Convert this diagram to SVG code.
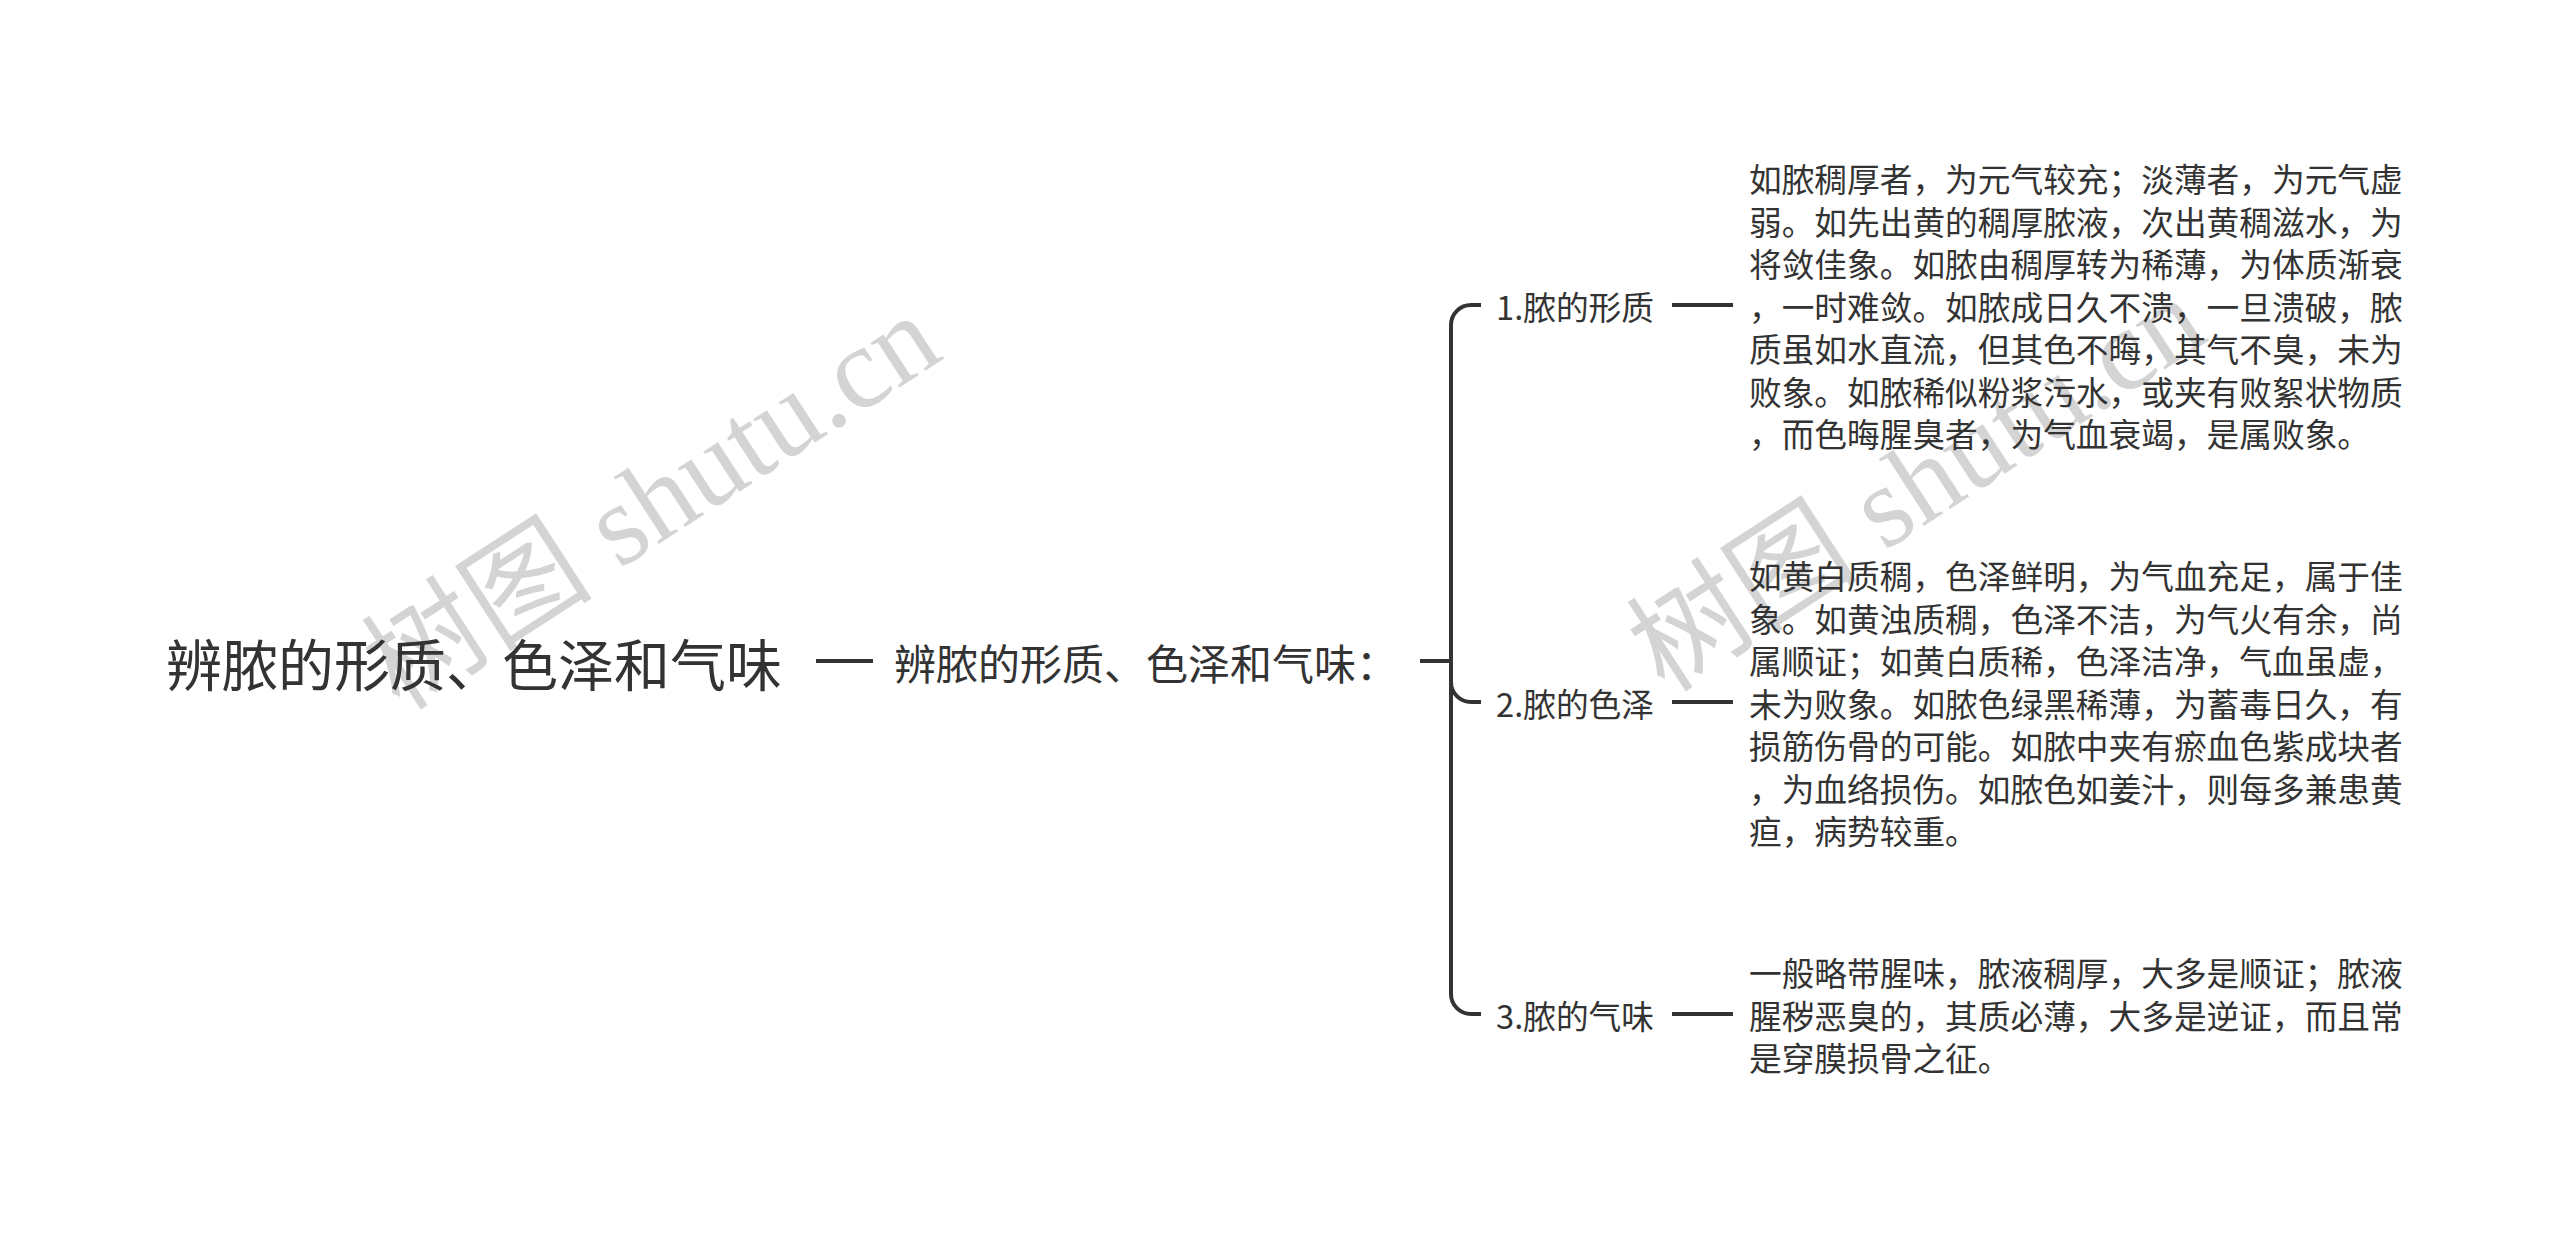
<svg xmlns="http://www.w3.org/2000/svg" width="2560" height="1234" viewBox="0 0 2560 1234">
<style>
.t{font-family:"Noto Sans CJK SC","Noto Sans",sans-serif;fill:#333;dominant-baseline:central}
.root{font-size:56px}
.sub{font-size:42px}
.lbl{font-size:32.7px}
.det{font-size:32.7px}
.wm{font-family:"Liberation Serif","Noto Sans CJK SC",serif;font-size:116px;fill:#d4d4d4}
.c{fill:none;stroke:#333;stroke-width:4}
</style>
<rect width="2560" height="1234" fill="#fff"/>
<g id="watermarks">
<text class="wm" transform="translate(400,712) rotate(-33)">树图 shutu.cn</text>
<text class="wm" transform="translate(1665,694) rotate(-33)">树图 shutu.cn</text>
</g>
<g id="connectors">
<line class="c" x1="816" y1="661" x2="873" y2="661"/>
<path class="c" d="M1420,661 H1451 V325 A20,20 0 0 1 1471,305 H1481"/>
<path class="c" d="M1451,661 V682 A20,20 0 0 0 1471,702 H1481"/>
<path class="c" d="M1451,661 V994 A20,20 0 0 0 1471,1014 H1481"/>
<line class="c" x1="1672" y1="305" x2="1733" y2="305"/>
<line class="c" x1="1672" y1="702" x2="1733" y2="702"/>
<line class="c" x1="1672" y1="1014" x2="1733" y2="1014"/>
</g>
<g id="root"><text class="t root" x="166" y="661">辨脓的形质、色泽和气味</text></g>
<g id="main"><text class="t sub" x="894" y="661">辨脓的形质、色泽和气味：</text></g>
<g id="n1"><text class="t lbl" x="1496" y="305">1.脓的形质</text></g>
<g id="n2"><text class="t lbl" x="1496" y="702">2.脓的色泽</text></g>
<g id="n3"><text class="t lbl" x="1496" y="1014">3.脓的气味</text></g>
<g id="d1">
<text class="t det" x="1749" y="177.5">如脓稠厚者，为元气较充；淡薄者，为元气虚</text>
<text class="t det" x="1749" y="220">弱。如先出黄的稠厚脓液，次出黄稠滋水，为</text>
<text class="t det" x="1749" y="262.5">将敛佳象。如脓由稠厚转为稀薄，为体质渐衰</text>
<text class="t det" x="1749" y="305">，一时难敛。如脓成日久不溃，一旦溃破，脓</text>
<text class="t det" x="1749" y="347.5">质虽如水直流，但其色不晦，其气不臭，未为</text>
<text class="t det" x="1749" y="390">败象。如脓稀似粉浆污水，或夹有败絮状物质</text>
<text class="t det" x="1749" y="432.5">，而色晦腥臭者，为气血衰竭，是属败象。</text>
</g>
<g id="d2">
<text class="t det" x="1749" y="574.5">如黄白质稠，色泽鲜明，为气血充足，属于佳</text>
<text class="t det" x="1749" y="617">象。如黄浊质稠，色泽不洁，为气火有余，尚</text>
<text class="t det" x="1749" y="659.5">属顺证；如黄白质稀，色泽洁净，气血虽虚，</text>
<text class="t det" x="1749" y="702">未为败象。如脓色绿黑稀薄，为蓄毒日久，有</text>
<text class="t det" x="1749" y="744.5">损筋伤骨的可能。如脓中夹有瘀血色紫成块者</text>
<text class="t det" x="1749" y="787">，为血络损伤。如脓色如姜汁，则每多兼患黄</text>
<text class="t det" x="1749" y="829.5">疸，病势较重。</text>
</g>
<g id="d3">
<text class="t det" x="1749" y="971.5">一般略带腥味，脓液稠厚，大多是顺证；脓液</text>
<text class="t det" x="1749" y="1014">腥秽恶臭的，其质必薄，大多是逆证，而且常</text>
<text class="t det" x="1749" y="1056.5">是穿膜损骨之征。</text>
</g>
</svg>
